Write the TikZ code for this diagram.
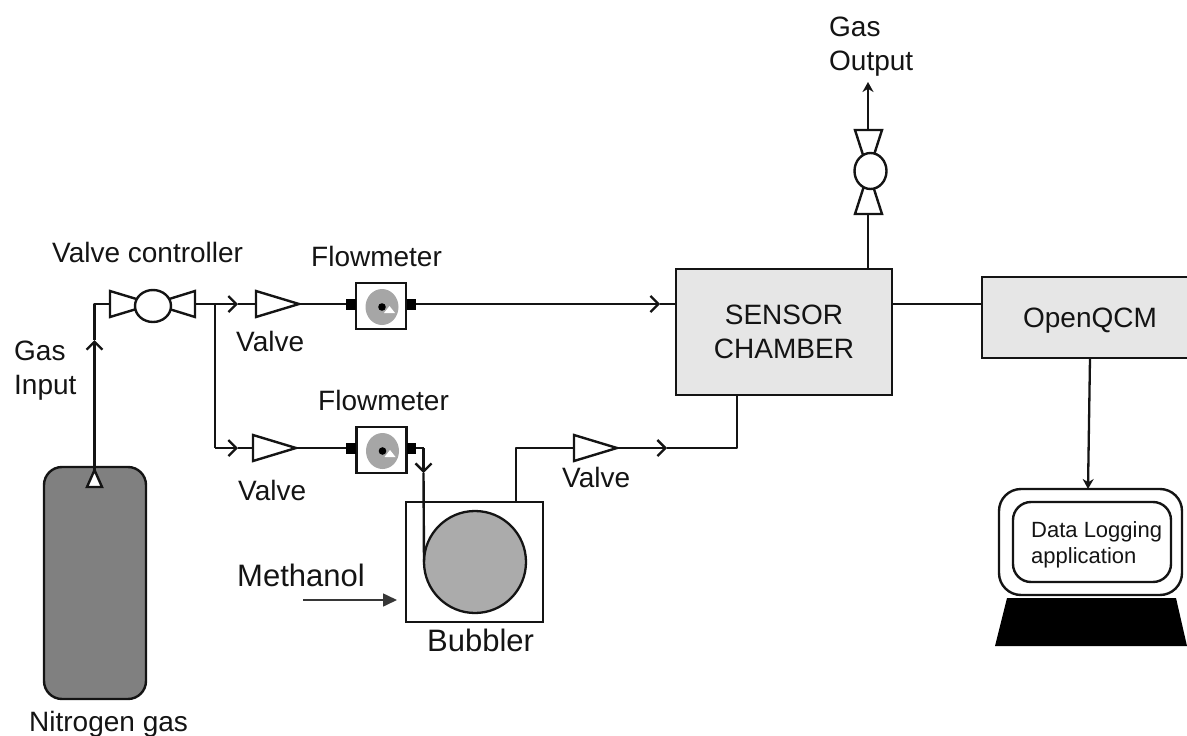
\documentclass[tikz,border=0pt]{standalone}
\usepackage{fontspec}
\setmainfont{Liberation Sans}
\usetikzlibrary{arrows.meta,calc,shapes.geometric}
\definecolor{cyl}{HTML}{808080}
\definecolor{disc}{HTML}{A6A6A6}
\definecolor{ball}{HTML}{ABABAB}
\definecolor{chamber}{HTML}{E6E6E6}
\definecolor{ink}{HTML}{141414}
\tikzset{
  x=1pt,y=-1pt,
  pipe/.style={draw=ink,line width=2.4pt,line join=round},
  flow/.style={pipe,-{Straight Barb[length=8pt,width=16pt,line width=2.3pt]}},
  solidtip/.style={draw=ink,line width=2.3pt,-{Stealth[length=10pt,width=11pt]}},
  shapeline/.style={draw=ink,line width=2.4pt,fill=white,line join=miter},
  label/.style={inner sep=0pt,anchor=base west,text=ink,font=\fontsize{28}{30}\selectfont},
  labelb/.style={label,font=\fontsize{31}{32}\selectfont},
  labels/.style={label,font=\fontsize{22}{25}\selectfont},
  boxed/.style={draw=ink,line width=2.4pt,inner sep=0pt,outer sep=0pt,rectangle},
}
\newcommand{\flowmeter}[3]{%
  \node[boxed,fill=white,minimum width=50pt,minimum height=46pt] (#1) at (#2,#3) {};
  \node[inner sep=0,outer sep=0,fill=black,minimum width=10pt,minimum height=11pt] (#1l) at ($(#2,#3)+(-30.5,-2)$) {};
  \node[inner sep=0,outer sep=0,fill=black,minimum width=9pt,minimum height=11pt] (#1r) at ($(#2,#3)+(30,-2)$) {};
  \fill[disc] (#2+1,#3+1) ellipse [x radius=16.5pt,y radius=18pt];
  \fill[white] (#2+8.5,#3) -- (#2+3,#3+7) -- (#2+14,#3+7) -- cycle;
  \fill[black] (#2+1,#3+1) circle (3.8pt);
}
\begin{document}
\begin{tikzpicture}
\useasboundingbox (0,0) rectangle (1187,736);
\clip (0,0) rectangle (1187,736);
% cylinder
\node[boxed,fill=cyl,rounded corners=18pt,minimum width=102pt,minimum height=232pt] (cylinder) at (95,583) {};
\coordinate (cyltop) at (94.5,470);
% bend points and tips
\coordinate (b1) at (94.5,304);
\coordinate (t1) at (94.5,340);
\coordinate (vcl) at (110,304);
\coordinate (vcr) at (195,304);
\coordinate (j) at (215,304);
\coordinate (t2) at (238,304);
\coordinate (v1l) at (256,304);
\coordinate (v1r) at (299,304);
\coordinate (j2) at (215,448);
\coordinate (t3) at (238,448);
\coordinate (v2l) at (253,448);
\coordinate (v2r) at (296,448);
\flowmeter{fm1}{381}{306}
\flowmeter{fm2}{381.5}{450}
\node[boxed,fill=chamber,minimum width=216pt,minimum height=126pt] (chamber) at (784,332) {};
\node[boxed,fill=chamber,minimum width=206pt,minimum height=81pt] (qcm) at (1085,317.5) {};
\coordinate (t4) at (660,304);
% pipes
\draw[flow] (cyltop) -- (t1);
\draw[pipe] (t1) -- (b1) -- (vcl);
\draw[pipe] (vcr) -- (j);
\draw[flow] (j) -- (t2);
\draw[pipe] (t2) -- (v1l);
\draw[pipe] (j) -- (j2);
\draw[flow] (j2) -- (t3);
\draw[pipe] (t3) -- (v2l);
\draw[pipe] (v1r) -- (fm1l.west);
\draw[pipe] (v2r) -- (fm2l.west);
\draw[flow] (fm1r.east) -- (t4);
\draw[pipe] (t4) -- (chamber.west |- t4);
% bubbler
\node[boxed,fill=white,minimum width=137pt,minimum height=120.5pt] (bubbler) at (474.5,562) {};
\node[draw=ink,line width=2.3pt,fill=ball,circle,minimum size=102pt,inner sep=0pt,outer sep=0pt] (ball) at (475,562) {};
\coordinate (b2) at (423.5,448);
\coordinate (t5) at (423.5,473);
\draw[pipe] (fm2r.east) -- (b2);
\draw[flow] (b2) -- (t5);
\draw[pipe] (t5) -- (ball.west);
\coordinate (b3o) at (516,502);
\coordinate (b3) at (516,448);
\coordinate (v3l) at (574,448);
\coordinate (v3r) at (617,448);
\coordinate (t6) at (667,448);
\coordinate (b4) at (737,448);
\draw[pipe] (b3o) -- (b3) -- (v3l);
\draw[flow] (v3r) -- (t6);
\draw[pipe] (t6) -- (b4) -- (b4 |- chamber.south);
% triangle valves
\draw[shapeline] (256,291) -- (256,317) -- (299,304) -- cycle;
\draw[shapeline] (253,435) -- (253,461) -- (296,448) -- cycle;
\draw[shapeline] (574,435) -- (574,461) -- (617,448) -- cycle;
% valve controller
\draw[shapeline] (110,291) -- (110,317) -- (153,304) -- cycle;
\draw[shapeline] (195,291) -- (195,317) -- (153,304) -- cycle;
\node[draw=ink,line width=2.4pt,fill=white,ellipse,minimum width=36pt,minimum height=32pt,inner sep=0pt,outer sep=0pt] (vc) at (153,306) {};
% cylinder outlet
\draw[shapeline] (94.5,470) -- (87,487) -- (102,487) -- cycle;
% output valve
\coordinate (ob) at (868,268);
\coordinate (ov1) at (868,214);
\coordinate (ov2) at (868,130);
\coordinate (ot) at (868,82);
\draw[pipe] (ob) -- (ov1);
\draw[solidtip] (ov2) -- (ot);
\draw[shapeline] (855,130) -- (882,130) -- (868.5,172) -- cycle;
\draw[shapeline] (855,214) -- (882,214) -- (868.5,172) -- cycle;
\node[draw=ink,line width=2.4pt,fill=white,ellipse,minimum width=32pt,minimum height=36pt,inner sep=0pt,outer sep=0pt] (ov) at (870.5,171) {};
% chamber to qcm
\coordinate (c1) at (chamber.east |- 0,304);
\draw[pipe] (c1) -- (qcm.west |- c1);
% monitor
\node[boxed,fill=white,rounded corners=22pt,minimum width=183pt,minimum height=106pt] (monitor) at (1090.5,542) {};
\node[boxed,fill=white,rounded corners=18pt,minimum width=158pt,minimum height=80pt] (screen) at (1092,542) {};
\fill[black] (1007,598) -- (1176,598) -- (1187,646) -- (995,646) -- cycle;
\coordinate (q1) at (1090,358);
\coordinate (m1) at (1088,489);
\draw[solidtip] (q1) -- (m1);
% methanol arrow
\coordinate (ma) at (303,600);
\draw[draw=ink!85,line width=1.6pt,-{Triangle[length=14pt,width=13pt]}] (ma) -- ($(bubbler.west |- ma)+(-9,0)$);
% labels
\node[label] (lvc) at (52,262) {Valve controller};
\node[label] (lf1) at (311,266) {Flowmeter};
\node[label] (lv1) at (236,351) {Valve};
\node[label] (lgi1) at (14,360) {Gas};
\node[label] (lgi2) at (14,394) {Input};
\node[label] (lf2) at (318,410) {Flowmeter};
\node[label] (lv2) at (238,500) {Valve};
\node[label] (lv3) at (562,487) {Valve};
\node[labelb] (lmeth) at (237,586) {Methanol};
\node[labelb] (lbub) at (427,651) {Bubbler};
\node[label] (ln2) at (29,731) {Nitrogen gas};
\node[label] (lgo1) at (829,36) {Gas};
\node[label] (lgo2) at (829,70) {Output};
\node[label,anchor=base] (lch1) at (784,324) {SENSOR};
\node[label,anchor=base] (lch2) at (784,358) {CHAMBER};
\node[label,anchor=base] (lqcm) at (1090,327) {OpenQCM};
\node[labels] (ld1) at (1031,537) {Data Logging};
\node[labels] (ld2) at (1031,563) {application};
\end{tikzpicture}
\end{document}
